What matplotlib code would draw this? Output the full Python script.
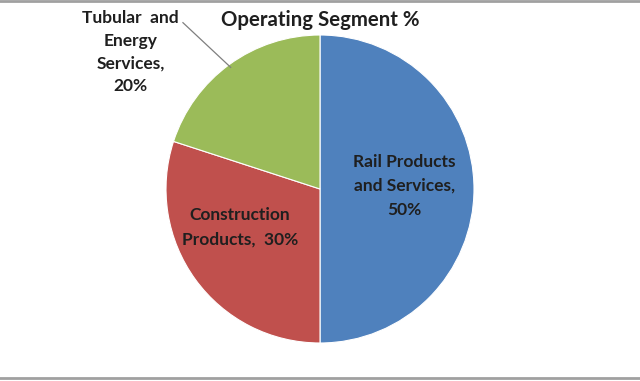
import matplotlib.pyplot as plt
from matplotlib.lines import Line2D

segments = ["Rail Products\nand Services,\n50%", "Construction\nProducts,  30%", "Tubular  and\nEnergy\nServices,\n20%"]
shares = [50, 30, 20]
colors = ["#4F81BD", "#C0504D", "#9BBB59"]

plt.rcParams['font.family'] = ['Lato', 'DejaVu Sans']

fig = plt.figure(figsize=(6.4, 3.81), dpi=100)
cx, cy, r = 320, 189, 154
W, H = 640, 381
ax = fig.add_axes([(cx - r) / W, (H - cy - r) / H, 2 * r / W, 2 * r / H])
ax.pie(shares, colors=colors, startangle=90, counterclock=False, radius=1,
       wedgeprops=dict(linewidth=0.8, edgecolor='white'))
ax.set_xlim(-1, 1)
ax.set_ylim(-1, 1)
ax.set_aspect('equal')
ax.axis('off')

txt = dict(ha='center', va='center', fontsize=12.5, fontweight='bold', color='#1f1f1f', clip_on=False)
ax.text(0.55, 0.02, segments[0], linespacing=1.62, **txt)
ax.text(-0.52, -0.25, segments[1], linespacing=1.62, **txt)
ax.text(-1.23, 0.89, segments[2], linespacing=1.52, **txt)
ax.plot([-0.89, -0.58], [1.08, 0.79], color='#7f7f7f', lw=0.9, clip_on=False)

fig.text(0.5, 1 - 20 / H, "Operating Segment %", ha='center', va='center', fontsize=14.7, fontweight='bold', color='#1f1f1f')

fig.add_artist(Line2D([0, 1], [1 - 1 / H, 1 - 1 / H], color='#a0a0a0', lw=2, transform=fig.transFigure))
fig.add_artist(Line2D([0, 1], [3 / H, 3 / H], color='#a0a0a0', lw=2, transform=fig.transFigure))

fig.savefig("out.png", dpi=100)
